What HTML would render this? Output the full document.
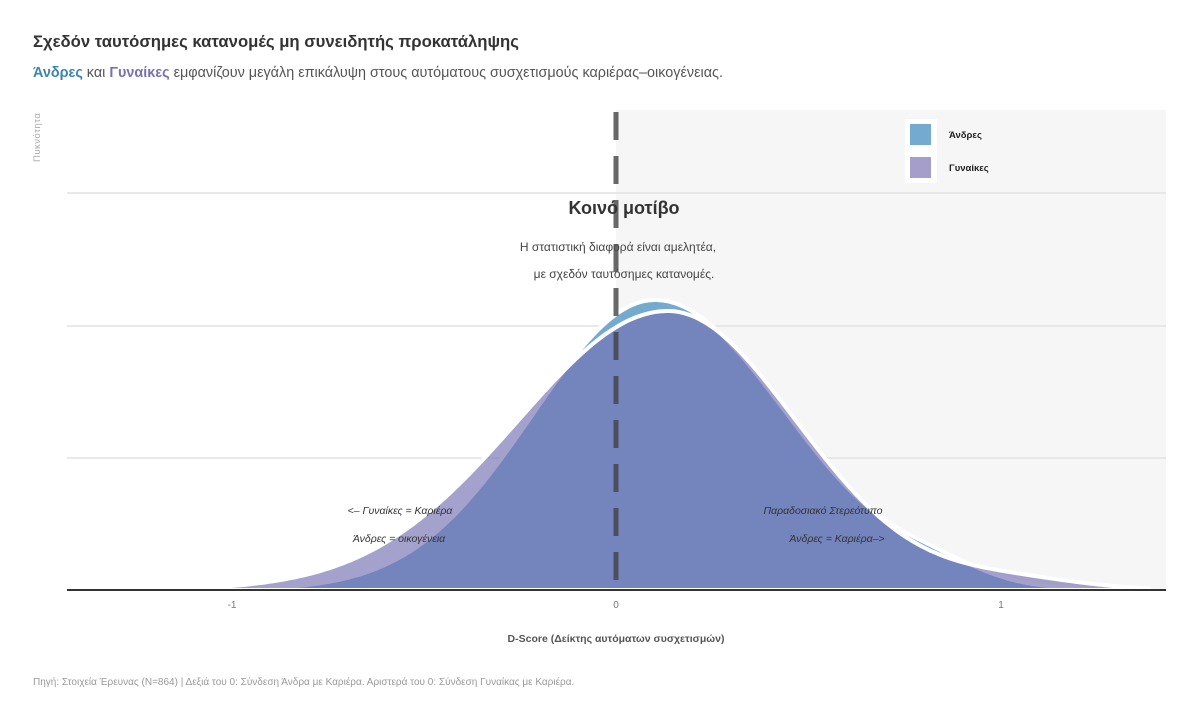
<!DOCTYPE html>
<html><head><meta charset="utf-8"><style>
html,body{margin:0;padding:0;background:#fff;}
body{width:1200px;height:720px;overflow:hidden;font-family:"Liberation Sans","DejaVu Sans",sans-serif;}
</style></head><body>
<svg id="s" width="1200" height="720" xmlns="http://www.w3.org/2000/svg" font-family="Liberation Sans, DejaVu Sans, sans-serif">
<text x="33" y="47" font-size="16.7" font-weight="bold" fill="#333">Σχεδόν ταυτόσημες κατανομές μη συνειδητής προκατάληψης</text>
<text x="33" y="77" font-size="14.4" fill="#555"><tspan fill="#3c84b4" font-weight="bold">Άνδρες</tspan> και <tspan fill="#7a72b0" font-weight="bold">Γυναίκες</tspan> εμφανίζουν μεγάλη επικάλυψη στους αυτόματους συσχετισμούς καριέρας–οικογένειας.</text>
<text transform="translate(40,162) rotate(-90)" font-size="9.5" fill="#aaa" letter-spacing="0.5">Πυκνότητα</text>
<rect x="616" y="110" width="550" height="480" fill="#f6f6f6"/>
<g stroke="#e2e2e2" stroke-width="1.5">
<line x1="67" y1="193" x2="1166" y2="193"/><line x1="67" y1="326" x2="1166" y2="326"/><line x1="67" y1="458" x2="1166" y2="458"/>
</g>
<path id="men" fill="#74aad0" stroke="#fff" stroke-width="4"/>
<path id="wom" fill="#7570b3" fill-opacity="0.66" stroke="#fff" stroke-width="4"/>
<line x1="616" y1="112" x2="616" y2="590" stroke="#444" stroke-opacity="0.8" stroke-width="5" stroke-dasharray="28,16"/>
<line x1="67" y1="590" x2="1166" y2="590" stroke="#333" stroke-width="2"/>
<g font-size="10" fill="#777" text-anchor="middle">
<text x="232" y="608">-1</text><text x="616" y="608">0</text><text x="1001" y="608">1</text>
</g>
<text x="616" y="642" font-size="10.5" font-weight="bold" fill="#555" text-anchor="middle">D-Score (Δείκτης αυτόματων συσχετισμών)</text>
<text x="624" y="214" font-size="18" font-weight="bold" fill="#333" text-anchor="middle">Κοινό μοτίβο</text>
<text x="618" y="251" font-size="12" fill="#444" text-anchor="middle">Η στατιστική διαφορά είναι αμελητέα,</text>
<text x="624" y="278" font-size="12" fill="#444" text-anchor="middle">με σχεδόν ταυτόσημες κατανομές.</text>
<g font-size="10.5" font-style="italic" fill="#333" text-anchor="middle">
<text x="400" y="514">&lt;– Γυναίκες = Καριέρα</text>
<text x="399" y="542">Άνδρες = οικογένεια</text>
<text x="823" y="514">Παραδοσιακό Στερεότυπο</text>
<text x="837" y="542">Άνδρες = Καριέρα–&gt;</text>
</g>
<rect x="905" y="119" width="32" height="64" fill="#fff"/>
<rect x="910" y="124" width="21" height="21" fill="#74aad0"/>
<rect x="910" y="157" width="21" height="21" fill="#a59ecb"/>
<text x="949" y="138" font-size="9.5" font-weight="bold" fill="#222">Άνδρες</text>
<text x="949" y="171" font-size="9.5" font-weight="bold" fill="#222">Γυναίκες</text>
<text x="33" y="685" font-size="10" fill="#999">Πηγή: Στοιχεία Έρευνας (N=864) | Δεξιά του 0: Σύνδεση Άνδρα με Καριέρα. Αριστερά του 0: Σύνδεση Γυναίκας με Καριέρα.</text>
</svg>
<script>
function men(x){var sd=x<655?122:132;return 290*Math.exp(-Math.pow((x-655)/sd,2)/2)+12*Math.exp(-Math.pow((x-935)/45,2)/2);}
function wom(x){var sd=x<668?150:128;var t=x>668?10*Math.exp(-Math.pow((x-1010)/70,2)/2):0;return 279*Math.exp(-Math.pow((x-668)/sd,2)/2)+t;}
function path(f){var d="M150,590";for(var x=150;x<=1150;x+=3){d+=" L"+x+","+(590-f(x)).toFixed(1);}return d+" L1150,590 Z";}
document.getElementById("men").setAttribute("d",path(men));
document.getElementById("wom").setAttribute("d",path(wom));
</script>
</body></html>
